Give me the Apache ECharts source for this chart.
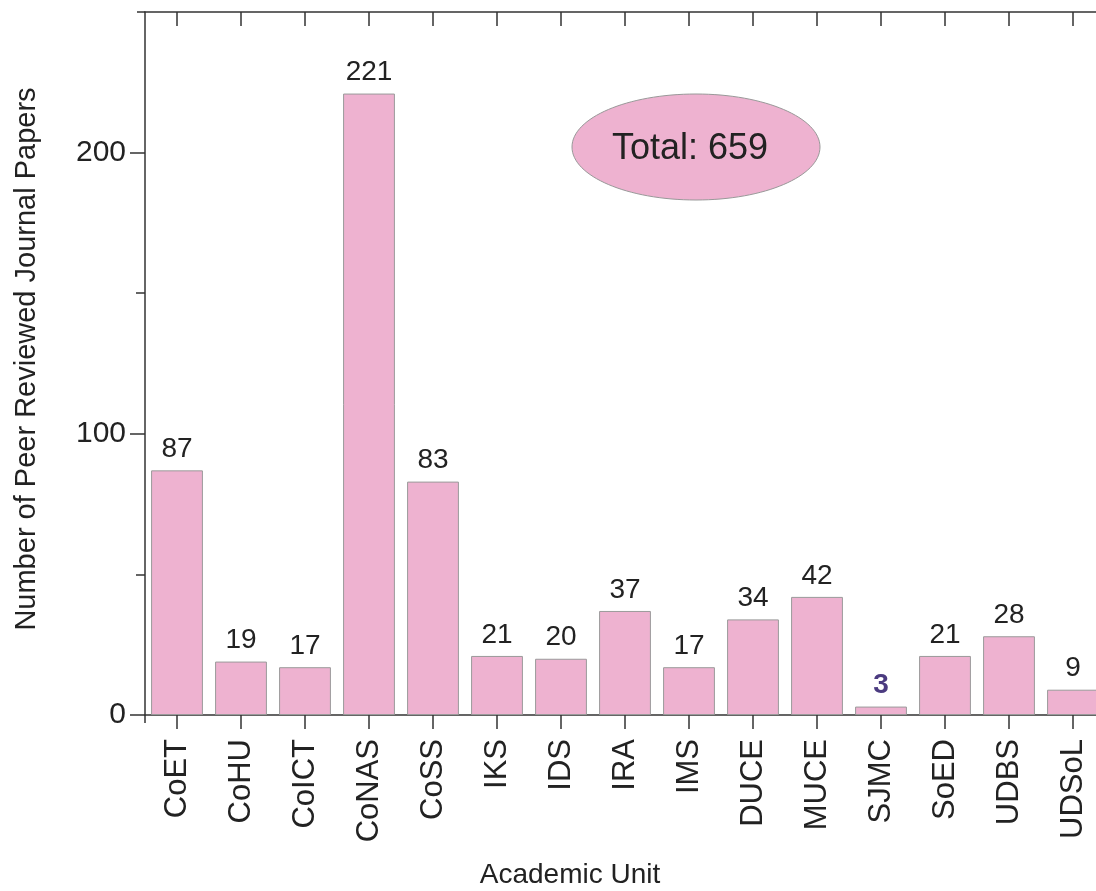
<!DOCTYPE html>
<html>
<head>
<meta charset="utf-8">
<script src="https://cdn.jsdelivr.net/npm/echarts@6/dist/echarts.min.js"></script>
<style>html,body{margin:0;padding:0;background:#fff}#c{width:1096px;height:891px}</style>
</head>
<body>
<div id="c"></div>
<script>
const categories = ['CoET','CoHU','CoICT','CoNAS','CoSS','IKS','IDS','IRA','IMS','DUCE','MUCE','SJMC','SoED','UDBS','UDSoL'];
const papers = [87,19,17,221,83,21,20,37,17,34,42,3,21,28,9];
const majorTicks = [0,100,200];
const minorTicks = [50,150];
const highlightCategory = 'SJMC';
const totalLabel = 'Total: 659';
const yName = 'Number of Peer Reviewed Journal Papers';
const xName = 'Academic Unit';

const FONT = '"Liberation Sans", Arial, Helvetica, sans-serif';
const AX = '#333';
const PINK = '#eeb2d0';

const chart = echarts.init(document.getElementById('c'));
const barData = papers.map((v, i) => categories[i] === highlightCategory
  ? {value: v, label: {color: '#4b3b80', fontWeight: 'bold'}}
  : v);

chart.setOption({
  backgroundColor: '#fff',
  animation: false,
  grid: {left: 145, top: 12, width: 960, bottom: 176, containLabel: false, outerBoundsMode: 'none'},
  xAxis: [
    {
      type: 'category', data: categories, position: 'bottom', boundaryGap: true,
      axisLine: {onZero: false, lineStyle: {color: AX, width: 1.5}},
      axisTick: {show: true, interval: 0, alignWithLabel: true, length: 14, lineStyle: {color: AX, width: 1.5}},
      axisLabel: {rotate: 90, margin: 24, fontSize: 31, color: '#222', fontFamily: FONT, interval: 0}
    },
    {
      type: 'category', data: categories, position: 'top', boundaryGap: true,
      axisLine: {show: true, onZero: false, lineStyle: {color: AX, width: 1.5}},
      axisTick: {show: true, interval: 0, inside: true, alignWithLabel: true, length: 14, lineStyle: {color: AX, width: 1.5}},
      axisLabel: {show: true, interval: 0, inside: true, fontSize: 10, color: 'rgba(0,0,0,0)'}
    }
  ],
  yAxis: [
    {
      type: 'value', min: 0, max: 250, position: 'left',
      splitLine: {show: false},
      axisLine: {show: true, onZero: false, lineStyle: {color: AX, width: 1.5}},
      axisTick: {show: true, length: 15, customValues: majorTicks, lineStyle: {color: AX, width: 1.5}},
      axisLabel: {customValues: majorTicks, margin: 19, fontSize: 30, color: '#222', fontFamily: FONT}
    },
    {
      type: 'value', min: 0, max: 250, position: 'left',
      splitLine: {show: false},
      axisLine: {show: false, onZero: false},
      axisTick: {show: true, length: 9, customValues: minorTicks, lineStyle: {color: AX, width: 1.5}},
      axisLabel: {show: false}
    },
    {
      type: 'value', min: 0, max: 250, position: 'right',
      splitLine: {show: false},
      axisLine: {show: true, onZero: false, lineStyle: {color: AX, width: 1.5}},
      axisTick: {show: true, inside: true, length: 8, customValues: majorTicks, lineStyle: {color: AX, width: 1.5}},
      axisLabel: {show: false}
    }
  ],
  series: [{
    type: 'bar', data: barData, xAxisIndex: 0, yAxisIndex: 0,
    barCategoryGap: '19%',
    itemStyle: {color: PINK, borderColor: '#9a9a9a', borderWidth: 1},
    label: {show: true, position: 'top', distance: 7, fontSize: 28, color: '#222', fontFamily: FONT}
  }],
  graphic: [
    {
      type: 'line', shape: {x1: 145, y1: 715, x2: 145, y2: 723},
      style: {stroke: AX, lineWidth: 1.5}, z: 10
    },
    {
      type: 'line', shape: {x1: 137, y1: 12, x2: 145, y2: 12},
      style: {stroke: AX, lineWidth: 1.5}, z: 10
    },
    {
      type: 'ellipse', shape: {cx: 696, cy: 147, rx: 124, ry: 53},
      style: {fill: PINK, stroke: '#999', lineWidth: 1}, z: 10
    },
    {
      type: 'text', x: 690, y: 149, z: 11,
      style: {text: totalLabel, fontSize: 36, fill: '#222', fontFamily: FONT, align: 'center', verticalAlign: 'middle'}
    },
    {
      type: 'text', x: 27, y: 359, rotation: Math.PI / 2, z: 11,
      style: {text: yName, fontSize: 29, fill: '#222', fontFamily: FONT, align: 'center', verticalAlign: 'middle'}
    },
    {
      type: 'text', x: 570, y: 875, z: 11,
      style: {text: xName, fontSize: 28, fill: '#222', fontFamily: FONT, align: 'center', verticalAlign: 'middle'}
    }
  ]
});
</script>
</body>
</html>
